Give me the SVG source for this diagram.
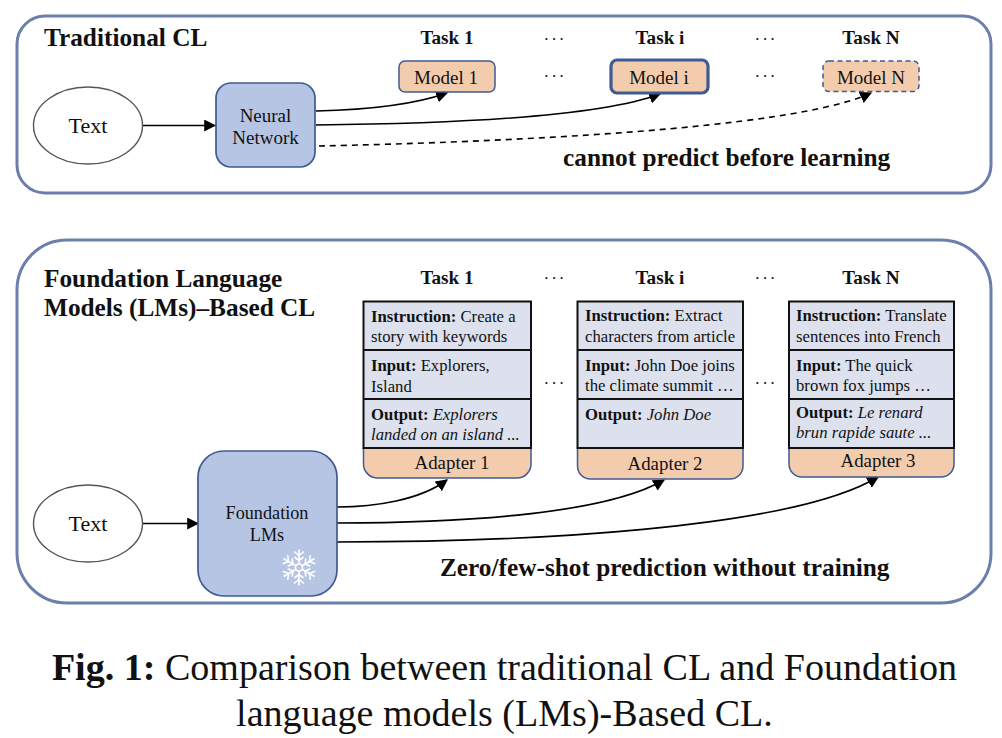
<svg xmlns="http://www.w3.org/2000/svg" width="1002" height="738" viewBox="0 0 1002 738">
<style>
text{font-family:"Liberation Serif","Times New Roman",serif;fill:#111}
.b{font-weight:bold}
.i{font-style:italic}
.panel{fill:#fff;stroke:#6a7fab;stroke-width:3}
.net{fill:#b6c5e4;stroke:#3f5a92;stroke-width:1.7}
.model{fill:#f3ccae;stroke:#3f5a92;stroke-width:1.5}
.oval{fill:#fff;stroke:#555;stroke-width:1.4}
.c{font-size:19px;text-anchor:middle}
.big{font-size:22px;text-anchor:middle}
.f{font-size:18.2px;text-anchor:middle}
.ad{font-size:18.9px;text-anchor:middle}
.task{font-size:19.2px;font-weight:bold;text-anchor:middle}
.h{font-size:25.300px;font-weight:bold}
.s{font-size:16.700px}
.card{fill:#dde1ee;stroke:#111;stroke-width:2}
.div{stroke:#111;stroke-width:2;fill:none}
.dots{font-size:17px;text-anchor:middle;letter-spacing:2px}
.link{fill:none;stroke:#000;stroke-width:1.6;marker-end:url(#a)}
.dash{stroke-dasharray:6 5}
.cap{font-size:38.050px;text-anchor:middle}
</style>
<defs>
<marker id="a" viewBox="0 0 10 10" refX="9" refY="5" markerWidth="12" markerHeight="12" orient="auto" markerUnits="userSpaceOnUse"><path d="M0 0L10 5L0 10z" fill="#000"/></marker>
<g id="arm" fill="none" stroke="#fff" stroke-width="1.6"><line x1="0" y1="-3.500" x2="0" y2="-18"/><line x1="0" y1="-12" x2="-5" y2="-16"/><line x1="0" y1="-12" x2="5" y2="-16"/><line x1="0" y1="-7" x2="-4.500" y2="-10.500"/><line x1="0" y1="-7" x2="4.500" y2="-10.500"/></g>
</defs>
<rect id="panel-traditional" class="panel" x="17" y="16" width="974" height="177" rx="28"/>
<rect id="panel-foundation" class="panel" x="17" y="240" width="974" height="363" rx="50"/>
<text class="h" x="44" y="46">Traditional CL</text>
<text class="h" x="44" y="287">Foundation Language</text>
<text class="h" x="44" y="316">Models (LMs)–Based CL</text>
<text class="task" x="447" y="44">Task 1</text>
<text class="task" x="660" y="44">Task i</text>
<text class="task" x="871" y="44">Task N</text>
<text class="dots" x="555" y="45">···</text>
<text class="dots" x="766" y="45">···</text>
<text class="dots" x="555" y="82">···</text>
<text class="dots" x="766" y="82">···</text>
<text class="task" x="447" y="284">Task 1</text>
<text class="task" x="660" y="284">Task i</text>
<text class="task" x="871" y="284">Task N</text>
<text class="dots" x="555" y="284">···</text>
<text class="dots" x="766" y="284">···</text>
<text class="dots" x="555" y="389">···</text>
<text class="dots" x="766" y="389">···</text>
<text class="b" x="563" y="166" font-size="25.300">cannot predict before learning</text>
<text class="b" x="440" y="576" font-size="25.300">Zero/few-shot prediction without training</text>
<g id="connectors">
<path class="link" d="M142 125.500L215 125.500"/>
<path class="link" d="M316 111C360 110 410 106 447 93"/>
<path class="link" d="M316 125C420 124 590 120 660 94"/>
<path class="link dash" d="M319 146C500 142 790 130 871 93"/>
<path class="link" d="M142 523.500L198 523.500"/>
<path class="link" d="M337 507C375 507 420 500 447 480"/>
<path class="link" d="M337 523C440 523 600 517 664 480"/>
<path class="link" d="M337 542C520 542 790 530 878 477"/>
</g>
<g id="text-top"><ellipse class="oval" cx="88" cy="125.500" rx="54.500" ry="38.500"/><text class="big" x="88" y="133">Text</text></g>
<g id="neural-network"><rect class="net" x="216" y="83" width="99" height="84" rx="15"/><text class="c" x="265.500" y="122">Neural</text><text class="c" x="265.500" y="143.500">Network</text></g>
<g id="model-1"><rect class="model" x="399" y="61" width="96" height="31" rx="6"/><text class="c" x="446" y="84">Model 1</text></g>
<g id="model-i"><rect class="model" x="611" y="60" width="97" height="33" rx="6" style="stroke-width:3.200"/><text class="c" x="659" y="84">Model i</text></g>
<g id="model-n"><rect class="model" x="823" y="61" width="96" height="30.500" rx="6" stroke-dasharray="5 3.500"/><text class="c" x="871" y="84">Model N</text></g>
<g id="text-bottom"><ellipse class="oval" cx="88" cy="523.500" rx="54.500" ry="38.500"/><text class="big" x="88" y="531">Text</text></g>
<g id="foundation-lms"><rect class="net" x="198" y="451" width="139" height="145" rx="26"/><text class="f" x="267" y="519">Foundation</text><text class="f" x="267" y="541">LMs</text>
<g><circle cx="299" cy="567.500" r="3.500" fill="none" stroke="#fff" stroke-width="1.600"/><use href="#arm" transform="translate(299 567.500)"/><use href="#arm" transform="translate(299 567.500) rotate(60)"/><use href="#arm" transform="translate(299 567.500) rotate(120)"/><use href="#arm" transform="translate(299 567.500) rotate(180)"/><use href="#arm" transform="translate(299 567.500) rotate(240)"/><use href="#arm" transform="translate(299 567.500) rotate(300)"/></g></g>
<g id="task-1">
<path class="model" d="M363.500 448H531V464a14 14 0 0 1-14 14H377.500a14 14 0 0 1-14-14z"/>
<rect class="card" x="363.500" y="301.500" width="167.500" height="146.500"/>
<path class="div" d="M363.500 350H531M363.500 399H531"/>
<text class="s" x="371" y="322"><tspan class="b">Instruction:</tspan> Create a</text>
<text class="s" x="371" y="342">story with keywords</text>
<text class="s" x="371" y="371"><tspan class="b">Input:</tspan> Explorers,</text>
<text class="s" x="371" y="392">Island</text>
<text class="s" x="371" y="420"><tspan class="b">Output:</tspan> <tspan class="i">Explorers</tspan></text>
<text class="s i" x="371" y="440">landed on an island ...</text>
<text class="ad" x="452" y="469">Adapter 1</text>
</g>
<g id="task-2">
<path class="model" d="M577.500 448H743V466a13 13 0 0 1-13 13H590.500a13 13 0 0 1-13-13z"/>
<rect class="card" x="577.500" y="301.500" width="165.500" height="146.500"/>
<path class="div" d="M577.500 350H743M577.500 399H743"/>
<text class="s" x="585" y="321"><tspan class="b">Instruction:</tspan> Extract</text>
<text class="s" x="585" y="342">characters from article</text>
<text class="s" x="585" y="371"><tspan class="b">Input:</tspan> John Doe joins</text>
<text class="s" x="585" y="391">the climate summit …</text>
<text class="s" x="585" y="420"><tspan class="b">Output:</tspan> <tspan class="i">John Doe</tspan></text>
<text class="ad" x="665" y="470">Adapter 2</text>
</g>
<g id="task-n">
<path class="model" d="M789 448H954V464a13 13 0 0 1-13 13H802a13 13 0 0 1-13-13z"/>
<rect class="card" x="789" y="301.500" width="165" height="146.500"/>
<path class="div" d="M789 350H954M789 399H954"/>
<text class="s" x="796" y="321"><tspan class="b">Instruction:</tspan> Translate</text>
<text class="s" x="796" y="342">sentences into French</text>
<text class="s" x="796" y="371"><tspan class="b">Input:</tspan> The quick</text>
<text class="s" x="796" y="391">brown fox jumps …</text>
<text class="s" x="796" y="418"><tspan class="b">Output:</tspan> <tspan class="i">Le renard</tspan></text>
<text class="s i" x="796" y="438">brun rapide saute ...</text>
<text class="ad" x="878" y="467">Adapter 3</text>
</g>
<text class="cap" x="504.500" y="680"><tspan class="b">Fig. 1:</tspan> Comparison between traditional CL and Foundation</text>
<text class="cap" x="504.500" y="726">language models (LMs)-Based CL.</text>
</svg>
